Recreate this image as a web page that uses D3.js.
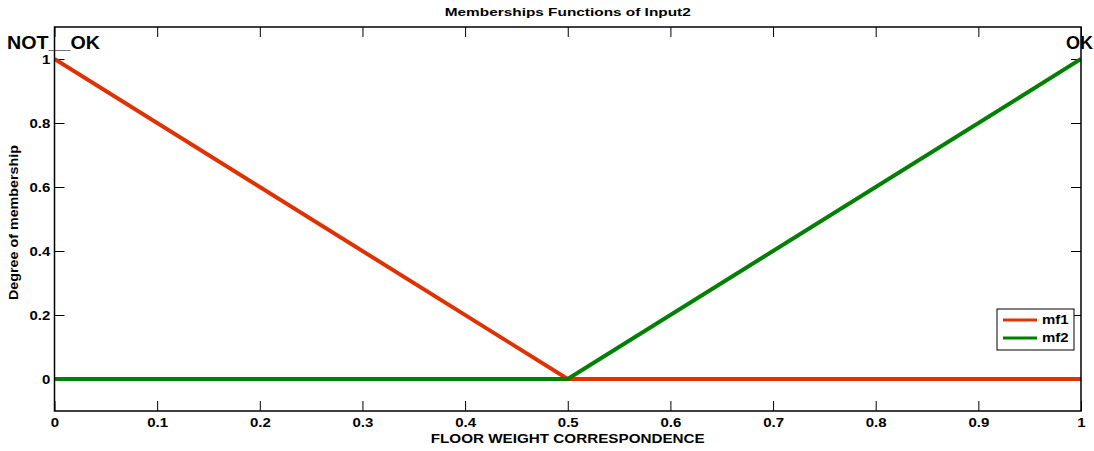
<!DOCTYPE html>
<html>
<head>
<meta charset="utf-8">
<script src="https://cdn.jsdelivr.net/npm/d3@7"></script>
<style>
  body { margin: 0; background: #fff; }
  text { font-family: "Liberation Sans", Arial, sans-serif; font-weight: bold; }
</style>
</head>
<body>
<div id="chart"></div>
<script>
// membership functions, sampled at their corner points
var mf1X = [0, 0.5, 1];
var mf1Y = [1, 0, 0];
var mf2X = [0, 0.5, 1];
var mf2Y = [0, 0, 1];
var seriesNames = ["mf1", "mf2"];
var seriesColors = ["#e03200", "#008000"];
var xTicks = [0, 0.1, 0.2, 0.3, 0.4, 0.5, 0.6, 0.7, 0.8, 0.9, 1];
var yTicks = [0, 0.2, 0.4, 0.6, 0.8, 1];
var mfLabels = [{text: "NOT__OK", x: 0}, {text: "OK", x: 1}];

var W = 1094, H = 451;
var margin = {top: 27, right: 13, bottom: 40, left: 54.5};
var width = W - margin.left - margin.right,
    height = H - margin.top - margin.bottom;

// the figure was stretched sideways, so text is wider than tall
var stretch = 1.2;

var x = d3.scaleLinear().domain([0, 1]).range([0, width]);
var y = d3.scaleLinear().domain([-0.1, 1.1]).range([height, 0]);

var svg = d3.select("#chart").append("svg")
    .attr("width", W)
    .attr("height", H);

var g = svg.append("g")
    .attr("transform", "translate(" + margin.left + "," + margin.top + ")");

// ticks inside the box, matlab style
var tl = 10;
var fmt = function(d) { return d3.format("")(d); };
g.append("g").attr("transform", "translate(0," + height + ")")
    .call(d3.axisBottom(x).tickValues(xTicks).tickSizeInner(-tl).tickSizeOuter(0).tickPadding(7.5).tickFormat(fmt));
g.append("g")
    .call(d3.axisTop(x).tickValues(xTicks).tickSizeInner(-tl).tickSizeOuter(0).tickFormat(""));
g.append("g")
    .call(d3.axisLeft(y).tickValues(yTicks).tickSizeInner(-tl).tickSizeOuter(0).tickPadding(3.5).tickFormat(fmt));
g.append("g").attr("transform", "translate(" + width + ",0)")
    .call(d3.axisRight(y).tickValues(yTicks).tickSizeInner(-tl).tickSizeOuter(0).tickFormat(""));

g.selectAll(".domain").remove();
g.selectAll(".tick line").attr("stroke", "#000").attr("stroke-width", 1);
g.selectAll(".tick text").attr("font-size", 12.5).attr("fill", "#000")
    .attr("transform", "scale(" + stretch + ",1)");

var line = d3.line()
    .x(function(d) { return x(d[0]); })
    .y(function(d) { return y(d[1]); });

var series = [d3.zip(mf1X, mf1Y), d3.zip(mf2X, mf2Y)];

svg.append("clipPath").attr("id", "clip")
    .append("rect").attr("width", width).attr("height", height);

g.append("g").attr("clip-path", "url(#clip)")
    .selectAll("path.mf")
    .data(series)
    .enter().append("path")
    .attr("class", "mf")
    .attr("fill", "none")
    .attr("stroke", function(d, i) { return seriesColors[i]; })
    .attr("stroke-width", 4)
    .attr("d", line);

// box
g.append("rect")
    .attr("width", width).attr("height", height)
    .attr("fill", "none").attr("stroke", "#000").attr("stroke-width", 1.5);

// mf names above the curve peaks
g.selectAll("text.mfname")
    .data(mfLabels)
    .enter().append("text")
    .attr("class", "mfname")
    .attr("x", function(d) { return d.x === 0 ? x(d.x) - 47.5 : x(d.x) - 15; })
    .attr("y", y(1) - 10)
    .attr("font-size", 18)
    .attr("textLength", function(d) { return d.x === 0 ? 93 : null; })
    .attr("lengthAdjust", "spacingAndGlyphs")
    .text(function(d) { return d.text; });

// title and axis labels
svg.append("text")
    .attr("x", margin.left + width / 2 - 123).attr("y", 15.5)
    .attr("font-size", 11)
    .attr("textLength", 246).attr("lengthAdjust", "spacingAndGlyphs")
    .text("Memberships Functions of Input2");
svg.append("text")
    .attr("x", margin.left + width / 2 - 137).attr("y", 443)
    .attr("font-size", 13)
    .attr("textLength", 274).attr("lengthAdjust", "spacingAndGlyphs")
    .text("FLOOR WEIGHT CORRESPONDENCE");
svg.append("text")
    .attr("transform", "translate(17.5,300) rotate(-90)")
    .attr("font-size", 12)
    .attr("textLength", 155).attr("lengthAdjust", "spacingAndGlyphs")
    .text("Degree of membership");

// legend
var lg = svg.append("g").attr("transform", "translate(997,309)");
lg.append("rect").attr("width", 77).attr("height", 41)
    .attr("fill", "#fff").attr("stroke", "#000").attr("stroke-width", 1);
var items = lg.selectAll("g.item").data(seriesNames).enter().append("g")
    .attr("transform", function(d, i) { return "translate(0," + (11 + i * 18) + ")"; });
items.append("line")
    .attr("x1", 6).attr("x2", 40)
    .attr("stroke", function(d, i) { return seriesColors[i]; })
    .attr("stroke-width", 3);
items.append("text")
    .attr("x", 45 / stretch).attr("dy", "0.35em").attr("font-size", 12.5)
    .attr("transform", "scale(" + stretch + ",1)")
    .text(function(d) { return d; });
</script>
</body>
</html>
